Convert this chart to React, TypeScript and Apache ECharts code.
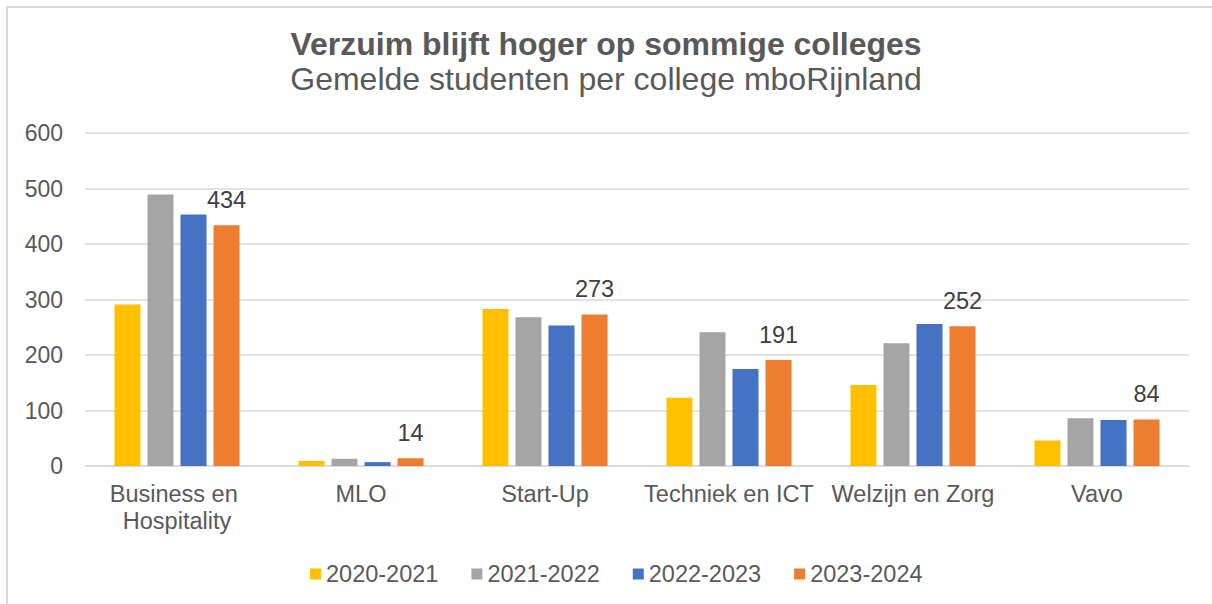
import React, { useEffect, useRef } from "react";
import * as echarts from "echarts";

const categories = [
  "Business en Hospitality",
  "MLO",
  "Start-Up",
  "Techniek en ICT",
  "Welzijn en Zorg",
  "Vavo",
];
const seriesNames = ["2020-2021", "2021-2022", "2022-2023", "2023-2024"];
const values2020 = [291, 9, 283, 123, 146, 46];
const values2021 = [489, 13, 268, 241, 221, 86];
const values2022 = [453, 7, 253, 175, 256, 83];
const values2023 = [434, 14, 273, 191, 252, 84];
const colors = ["#FFC000", "#A5A5A5", "#4472C4", "#ED7D31"];
const yTicks = { min: 0, max: 600, interval: 100 };

const titleText = "Verzuim blijft hoger op sommige colleges";
const subtitleText = "Gemelde studenten per college mboRijnland";

const FONT = "'Liberation Sans', Arial, sans-serif";

export default function App() {
  const ref = useRef<HTMLDivElement>(null);
  useEffect(() => {
    if (!ref.current) return;
    const chart = echarts.init(ref.current, undefined, { renderer: "svg" });
    const allValues = [values2020, values2021, values2022, values2023];
    chart.setOption({
      animation: false,
      backgroundColor: "#ffffff",
      textStyle: { fontFamily: FONT },
      title: [
        {
          text: titleText,
          left: "center",
          top: 28,
          padding: 0,
          textStyle: { fontFamily: FONT, fontSize: 32, fontWeight: "bold", color: "#595959" },
        },
        {
          text: subtitleText,
          left: "center",
          top: 63,
          padding: 0,
          textStyle: { fontFamily: FONT, fontSize: 32, fontWeight: "normal", color: "#595959" },
        },
      ],
      graphic: [
        {
          type: "rect",
          shape: { x: 7, y: 7, width: 1400, height: 800 },
          style: { fill: "none", stroke: "#D9D9D9", lineWidth: 2 },
          silent: true,
        },
      ],
      legend: {
        data: seriesNames,
        left: 310,
        top: 562,
        padding: 0,
        itemWidth: 11,
        itemHeight: 11,
        itemGap: 33,
        icon: "rect",
        textStyle: { fontFamily: FONT, fontSize: 23.5, color: "#595959" },
      },
      grid: { left: 85, right: 23, top: 133, bottom: 138, containLabel: false },
      xAxis: {
        type: "category",
        data: categories,
        axisLine: { lineStyle: { color: "#D9D9D9", width: 1.5 } },
        axisTick: { show: false },
        axisLabel: {
          interval: 0,
          margin: 14,
          fontFamily: FONT,
          fontSize: 23.5,
          lineHeight: 27,
          color: "#595959",
          width: 184,
          overflow: "break",
        },
      },
      yAxis: {
        type: "value",
        min: yTicks.min,
        max: yTicks.max,
        interval: yTicks.interval,
        axisLine: { show: false },
        axisTick: { show: false },
        splitLine: { lineStyle: { color: "#D9D9D9", width: 1.5 } },
        axisLabel: { margin: 22, fontFamily: FONT, fontSize: 23, color: "#595959" },
      },
      series: seriesNames.map((name, i) => ({
        name,
        type: "bar",
        data: allValues[i],
        barWidth: 26,
        barGap: "27%",
        itemStyle: { color: colors[i] },
        label:
          i === 3
            ? {
                show: true,
                position: "top",
                distance: 13,
                fontFamily: FONT,
                fontSize: 23.5,
                color: "#404040",
              }
            : { show: false },
      })),
    });
    return () => chart.dispose();
  }, []);
  return (
    <div
      ref={ref}
      style={{ position: "fixed", left: 0, top: 0, width: 1212, height: 604 }}
    />
  );
}
